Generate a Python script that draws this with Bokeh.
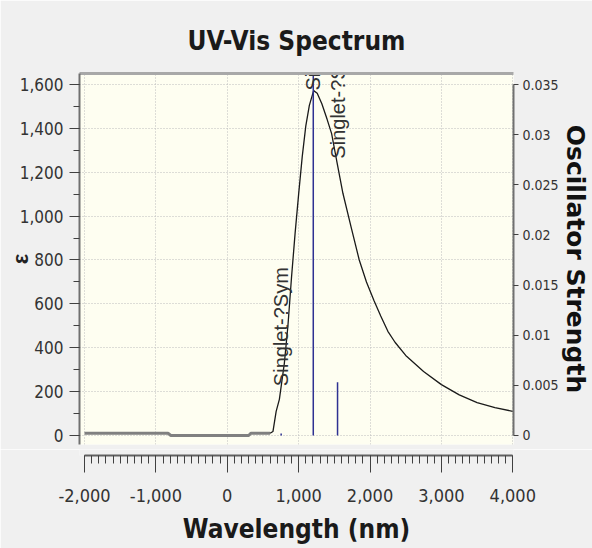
import math
from bokeh.plotting import figure
from bokeh.models import (Range1d, LinearAxis, SingleIntervalTicker, FixedTicker,
                          NumeralTickFormatter, Grid)
from bokeh.layouts import column
from bokeh.embed import file_html
from bokeh.resources import INLINE
from bokeh.core.properties import value

# ---------------- data ----------------
# flat, thick grey part of the spectrum (wavelength nm, epsilon)
tail_wl = [-2000, -830, -790, 300, 330, 600]
tail_eps = [10, 10, 0, 0, 10, 10]

# main absorption band (wavelength nm, epsilon)
band_wl = [600, 640, 685, 730, 760, 800, 850, 900, 950, 1000, 1050, 1100, 1150,
           1210, 1260, 1325, 1400, 1462, 1530, 1621, 1736, 1849, 1950, 2055,
           2150, 2250, 2350, 2500, 2750, 3000, 3250, 3500, 3750, 4000]
band_eps = [10, 18, 110, 165, 235, 330, 500, 720, 920, 1100, 1270, 1410, 1505,
            1572, 1560, 1512, 1440, 1376, 1258, 1103, 949, 800, 700, 615,
            545, 475, 425, 365, 292, 232, 185, 150, 127, 110]

# excitations (sticks): wavelength nm, oscillator strength, label, curve height at label
stick_wl = [755, 1205, 1545]
stick_f = [0.0002, 0.0359, 0.0053]
stick_label = ["Singlet-?Sym", "Singlet-?Sym", "Singlet-?Sym"]
label_eps = [225, 1572, 1262]

# tick values
f_ticks = [0, 0.005, 0.01, 0.015, 0.02, 0.025, 0.03, 0.035]

# ---------------- style ----------------
PAGE = "#F0F0F0"
CREAM = "#FEFEF1"
COND = "DejaVu Sans Condensed, Liberation Sans"
TXT = "#333333"

x_range = Range1d(-2070, 4010)

p = figure(width=592, height=449, x_range=x_range, y_range=Range1d(-41, 1650),
           x_axis_location=None, y_axis_location="left",
           output_backend="svg", toolbar_location=None,
           min_border_left=79, min_border_right=77, min_border_top=73,
           min_border_bottom=5, background_fill_color=CREAM,
           border_fill_color=PAGE, outline_line_color=None)
p.center = []

p.add_layout(Grid(dimension=0, ticker=SingleIntervalTicker(interval=1000),
                  grid_line_color="#BDBDBD", grid_line_dash="1 2"))
p.add_layout(Grid(dimension=1, ticker=SingleIntervalTicker(interval=200),
                  grid_line_color="#BDBDBD", grid_line_dash="1 2"))

# title
p.title.text = "UV-Vis Spectrum"
p.title.align = "center"
p.title.text_font = COND
p.title.text_font_style = "bold"
p.title.text_font_size = "26px"
p.title.text_color = "#1a1a1a"
p.title.standoff = 35

# top grey bar
top = LinearAxis(ticker=FixedTicker(ticks=[]),
                 major_tick_out=0, major_tick_in=0, minor_tick_out=0, minor_tick_in=0,
                 major_label_text_font_size="0px", major_label_standoff=0,
                 axis_line_color="#A8A8A8", axis_line_width=3)
p.add_layout(top, "above")

# left axis
ya = p.yaxis[0]
ya.ticker = SingleIntervalTicker(interval=200, num_minor_ticks=2)
ya.formatter = NumeralTickFormatter(format="0,0")
ya.major_tick_out = 10
ya.major_tick_in = 0
ya.minor_tick_out = 6
ya.minor_tick_in = 0
ya.major_tick_line_color = "#404040"
ya.minor_tick_line_color = "#404040"
ya.axis_line_color = "#707070"
ya.axis_line_width = 2
ya.major_label_standoff = 6
ya.major_label_text_font = COND
ya.major_label_text_font_size = "17px"
ya.major_label_text_color = TXT
ya.axis_label = "ε"
ya.axis_label_text_font = "Liberation Sans"
ya.axis_label_text_font_style = "bold"
ya.axis_label_text_font_size = "22px"
ya.axis_label_text_color = "#222222"
ya.axis_label_standoff = -16

# right axis
p.extra_y_ranges = {"f": Range1d(-0.0009, 0.0361)}
ra = LinearAxis(y_range_name="f", ticker=FixedTicker(ticks=f_ticks),
                formatter=NumeralTickFormatter(format="0.[000]"), bounds=(0, 0.035),
                major_tick_out=5, major_tick_in=0, minor_tick_out=0, minor_tick_in=0,
                major_tick_line_color="#404040", axis_line_color="#707070",
                axis_line_width=2, major_label_standoff=4,
                major_label_text_font=COND, major_label_text_font_size="14px",
                major_label_text_color=TXT,
                axis_label="Oscillator Strength", axis_label_text_font="DejaVu Sans",
                axis_label_text_font_style="bold", axis_label_text_font_size="25px",
                axis_label_text_color="#111111", axis_label_standoff=-1)
p.add_layout(ra, "right")

# spectrum
p.line(tail_wl, tail_eps, line_color="#808080", line_width=3)
p.line(band_wl, band_eps, line_color="#1a1a1a", line_width=1.3)

# sticks
p.segment(x0=stick_wl, y0=0, x1=stick_wl, y1=stick_f, y_range_name="f",
          line_color="#2E3192", line_width=1.5)
p.text(x=stick_wl, y=label_eps, text=stick_label, angle=math.pi / 2,
       text_align="left", text_baseline="middle",
       text_font=value("Liberation Sans"), text_font_size=value("20px"),
       text_color="#333333")

# bottom x axis (separate strip, shares x range)
b = figure(width=592, height=99, x_range=x_range, y_range=Range1d(0, 1),
           x_axis_location="below", y_axis_location=None,
           output_backend="svg", toolbar_location=None,
           min_border_left=79, min_border_right=77, min_border_top=0,
           min_border_bottom=93, background_fill_color=PAGE,
           border_fill_color=PAGE, outline_line_color=None)
b.center = []
xa = b.xaxis[0]
xa.ticker = SingleIntervalTicker(interval=1000, num_minor_ticks=10)
xa.formatter = NumeralTickFormatter(format="0,0")
xa.bounds = (-2000, 4000)
xa.major_tick_out = 17
xa.major_tick_in = 0
xa.minor_tick_out = 8
xa.minor_tick_in = 0
xa.major_tick_line_color = "#404040"
xa.minor_tick_line_color = "#404040"
xa.axis_line_color = "#606060"
xa.axis_line_width = 2
xa.major_label_standoff = 16
xa.major_label_text_font = COND
xa.major_label_text_font_size = "18px"
xa.major_label_text_color = TXT
xa.axis_label = "Wavelength (nm)"
xa.axis_label_text_font = COND
xa.axis_label_text_font_style = "bold"
xa.axis_label_text_font_size = "26px"
xa.axis_label_text_color = "#1a1a1a"
xa.axis_label_standoff = 9

layout = column(p, b, spacing=0)

open("out.html", "w").write(file_html(layout, INLINE))
